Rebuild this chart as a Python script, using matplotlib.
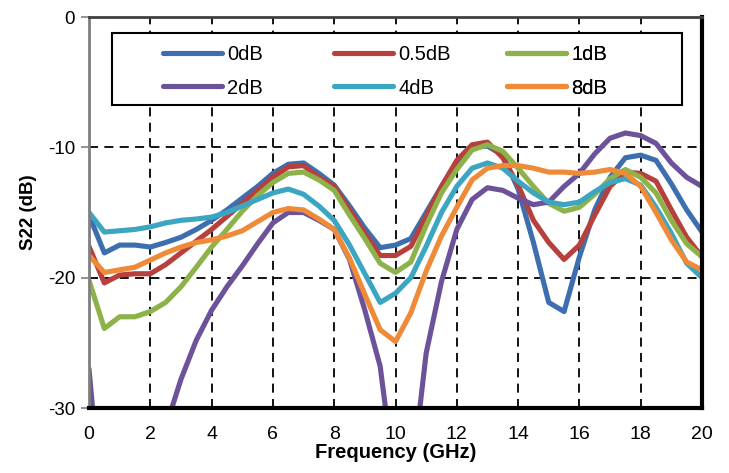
import numpy as np
import matplotlib
matplotlib.use("Agg")
import matplotlib.pyplot as plt
from matplotlib.patches import Rectangle

plt.rcParams['font.family'] = ['Liberation Sans', 'DejaVu Sans']

freq = [0, 0.5, 1, 1.5, 2, 2.5, 3, 3.5, 4, 4.5, 5, 5.5, 6, 6.5, 7, 7.5, 8, 8.5, 9, 9.5,
        10, 10.5, 11, 11.5, 12, 12.5, 13, 13.5, 14, 14.5, 15, 15.5, 16, 16.5, 17, 17.5,
        18, 18.5, 19, 19.5, 20]

s22_0dB = [-15.2, -18.1, -17.5, -17.5, -17.65, -17.3, -16.9, -16.3, -15.6, -14.8, -13.9,
           -13.0, -12.0, -11.3, -11.2, -12.0, -12.9, -14.5, -16.2, -17.7, -17.5, -17.0,
           -15.0, -13.0, -11.2, -10.0, -9.9, -10.6, -13.2, -17.3, -21.9, -22.6, -18.4,
           -14.8, -12.3, -10.8, -10.6, -11.0, -12.8, -14.8, -16.5]
s22_05dB = [-17.6, -20.4, -19.8, -19.7, -19.7, -19.0, -18.1, -17.2, -16.3, -15.3, -14.3,
            -13.3, -12.3, -11.5, -11.4, -12.3, -13.0, -14.8, -16.6, -18.3, -18.3, -17.6,
            -15.3, -13.0, -11.0, -9.8, -9.6, -10.8, -12.9, -15.6, -17.3, -18.6, -17.5,
            -15.2, -13.0, -11.9, -12.0, -12.6, -14.8, -16.9, -18.4]
s22_1dB = [-20.2, -23.9, -23.0, -23.0, -22.6, -21.9, -20.7, -19.2, -17.65, -16.3, -14.9,
           -13.7, -12.7, -12.0, -11.9, -12.5, -13.3, -15.2, -17.0, -18.9, -19.6, -18.8,
           -16.0, -13.5, -11.7, -10.2, -9.8, -10.3, -11.6, -13.0, -14.3, -14.9, -14.6,
           -13.6, -12.4, -11.7, -12.3, -13.5, -15.6, -17.4, -18.4]
s22_2dB = [-27.0, -40.0, -50.0, -50.0, -42.0, -31.5, -27.8, -24.8, -22.5, -20.7, -19.1,
           -17.4, -15.8, -15.0, -15.0, -15.6, -16.3, -18.6, -22.5, -26.8, -36.0, -36.0,
           -25.8, -20.3, -16.3, -14.0, -13.1, -13.3, -13.9, -14.4, -14.2, -13.0, -12.0,
           -10.5, -9.3, -8.9, -9.1, -9.7, -11.2, -12.3, -13.0]
s22_4dB = [-15.0, -16.5, -16.4, -16.3, -16.1, -15.8, -15.6, -15.5, -15.35, -15.0, -14.5,
           -14.0, -13.5, -13.2, -13.6, -14.5, -15.6, -17.5, -19.7, -21.9, -21.2, -20.0,
           -17.6, -15.0, -13.0, -11.6, -11.2, -11.6, -12.6, -13.5, -14.2, -14.4, -14.2,
           -13.4, -12.7, -12.4, -12.9, -14.6, -16.6, -18.9, -20.0]
s22_8dB = [-18.3, -19.6, -19.4, -19.2, -18.65, -18.1, -17.65, -17.3, -17.1, -16.8, -16.4,
           -15.7, -15.0, -14.7, -14.8, -15.5, -16.3, -18.5, -21.3, -24.0, -24.9, -22.7,
           -19.5, -16.8, -14.6, -12.5, -11.6, -11.4, -11.4, -11.6, -11.9, -11.9, -12.0,
           -11.9, -11.7, -12.0, -13.0, -15.0, -17.1, -18.8, -19.4]

labels = ['0dB', '0.5dB', '1dB', '2dB', '4dB', '8dB']
colors = ['#3D6FB0', '#B8403C', '#8DB24A', '#6C5399', '#3CA6C2', '#EE8A38']
series = [s22_0dB, s22_05dB, s22_1dB, s22_2dB, s22_4dB, s22_8dB]

xticks = [0, 2, 4, 6, 8, 10, 12, 14, 16, 18, 20]
yticks = [-30, -20, -10, 0]

fig = plt.figure(figsize=(7.29, 4.73), dpi=100)
ax = fig.add_axes([89/729, 1 - 408/473, 613/729, 391/473])

lines = []
for vals, col, lab in zip(series, colors, labels):
    ln, = ax.plot(freq, vals, color=col, lw=3.7, label=lab,
                  solid_capstyle='round', solid_joinstyle='round', zorder=3)
    lines.append(ln)

ax.set_xlim(0, 20)
ax.set_ylim(-30, 0)
ax.set_xticks(xticks)
ax.set_yticks(yticks)
ax.set_xticklabels([str(t) for t in xticks], fontsize=14)
ax.set_yticklabels([str(t) for t in yticks], fontsize=13.5)
ax.tick_params(axis='x', length=0, pad=13)
ax.tick_params(axis='y', length=6, width=1.2, color='#808080', direction='out', pad=4)

ax.grid(True, color='black', linestyle=(0, (5, 3.5)), linewidth=1.3, zorder=1)
ax.set_axisbelow(True)

for side, lw, c in [('left', 2.0, '#7F7F7F'), ('top', 2.0, '#404040'),
                    ('right', 3.0, 'black'), ('bottom', 3.0, 'black')]:
    ax.spines[side].set_linewidth(lw)
    ax.spines[side].set_color(c)
    ax.spines[side].set_zorder(5)

ax.set_xlabel('Frequency (GHz)', fontsize=14.5, fontweight='bold', labelpad=0)
ax.set_ylabel('S22 (dB)', fontsize=13.5, fontweight='bold', labelpad=8)

# legend frame
def ax_x(px):
    return (px - 89) / 613
def ax_y(py):
    return (408 - py) / 391

rect = Rectangle((ax_x(112), ax_y(105)), ax_x(682) - ax_x(112), ax_y(33) - ax_y(105),
                 transform=ax.transAxes, facecolor='white', edgecolor='black',
                 linewidth=1.5, zorder=6)
ax.add_patch(rect)

col_x = [163, 334, 507]
for j in range(3):
    leg = ax.legend(handles=[lines[j], lines[j + 3]], loc='upper left',
                    bbox_to_anchor=(ax_x(col_x[j]), ax_y(45)),
                    frameon=False, fontsize=14.5, handlelength=2.95,
                    handletextpad=0.25, labelspacing=0.72, borderpad=0,
                    borderaxespad=0)
    leg.set_zorder(7)
    ax.add_artist(leg)

fig.savefig('out.png', dpi=100)
